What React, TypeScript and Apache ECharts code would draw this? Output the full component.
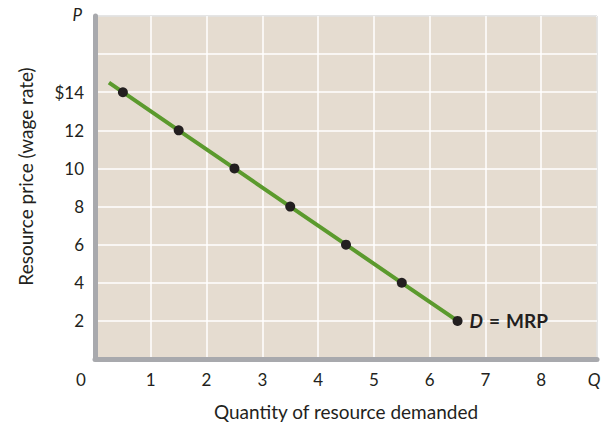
import React, { useEffect, useRef } from "react";
import * as echarts from "echarts";

const quantities = [0.5, 1.5, 2.5, 3.5, 4.5, 5.5, 6.5];
const prices = [14, 12, 10, 8, 6, 4, 2];
const lineStart = [0.25, 14.5];
const xTitle = "Quantity of resource demanded";
const yTitle = "Resource price (wage rate)";

const FONT = "Lato, sans-serif";
const INK = "#231f20";

export default function App() {
  const ref = useRef<HTMLDivElement>(null);
  useEffect(() => {
    document.body.style.margin = "0";
    document.body.style.overflow = "hidden";
    if (!ref.current) return;
    const chart = echarts.init(ref.current, null, { renderer: "svg" });
    const pts = quantities.map((q, i) => [q, prices[i]]);
    const linePts = [lineStart, ...pts];
    chart.setOption({
      animation: false,
      textStyle: { fontFamily: FONT },
      grid: {
        left: 95,
        right: 8,
        top: 16,
        bottom: 63,
        show: true,
        backgroundColor: "#e5dcd0",
        borderColor: "#333333",
        borderWidth: 1,
      },
      xAxis: {
        type: "value",
        min: 0,
        max: 9,
        interval: 1,
        offset: 2,
        name: xTitle,
        nameLocation: "middle",
        nameGap: 41,
        nameTextStyle: { fontSize: 19, color: INK, fontFamily: FONT },
        axisLine: { show: true, lineStyle: { color: "#a8a9ad", width: 5 } },
        axisTick: { show: false },
        splitLine: { show: true, lineStyle: { color: "#ffffff", width: 1.5 } },
        axisLabel: {
          margin: 10,
          fontSize: 17,
          color: INK,
          fontFamily: FONT,
          showMaxLabel: true,
          showMinLabel: true,
          formatter: (v: number) =>
            v === 9 ? "{q|Q}" : v === 0 ? "{z|0}" : String(v),
          rich: {
            q: { fontStyle: "italic", fontSize: 17, color: INK, fontFamily: FONT, padding: [0, 6, 0, 0] },
            z: { fontSize: 17, color: INK, fontFamily: FONT, padding: [0, 28, 0, 0] },
          },
        },
      },
      yAxis: {
        type: "value",
        min: 0,
        max: 18,
        interval: 2,
        offset: 2,
        name: yTitle,
        nameLocation: "middle",
        nameGap: 58,
        nameTextStyle: { fontSize: 19, color: INK, fontFamily: FONT, padding: [0, 0, 0, 22] },
        axisLine: { show: true, lineStyle: { color: "#a8a9ad", width: 5 } },
        axisTick: { show: false },
        splitLine: { show: true, lineStyle: { color: "#ffffff", width: 1.5 } },
        axisLabel: {
          margin: 9,
          fontSize: 17,
          color: INK,
          fontFamily: FONT,
          showMaxLabel: true,
          formatter: (v: number) =>
            v === 0 ? "" : v === 18 ? "{p|P}" : v === 16 ? "" : v === 14 ? "$14" : String(v),
          rich: {
            p: { fontStyle: "italic", fontSize: 17, color: INK, fontFamily: FONT, padding: [0, 2, 4, 0] },
          },
        },
      },
      series: [
        {
          type: "line",
          data: linePts,
          showSymbol: false,
          symbol: "none",
          lineStyle: { color: "#5b9a2d", width: 4 },
          z: 2,
        },
        {
          type: "scatter",
          data: pts,
          symbol: "circle",
          symbolSize: 10,
          itemStyle: { color: INK, opacity: 1 },
          z: 3,
          label: {
            show: true,
            position: "right",
            distance: 7,
            formatter: (p: any) => (p.dataIndex === pts.length - 1 ? "{i|D}{e|=}{b|MRP}" : ""),
            rich: {
              i: { fontStyle: "italic", fontWeight: "bold", fontSize: 19, color: INK, fontFamily: FONT, padding: [0, 6, 0, 0] },
              e: { fontWeight: "bold", fontSize: 19, color: INK, fontFamily: FONT, padding: [0, 6, 0, 0] },
              b: { fontWeight: "bold", fontSize: 19, color: INK, fontFamily: FONT },
            },
          },
        },
      ],
    });
    return () => chart.dispose();
  }, []);
  return <div ref={ref} style={{ width: 605, height: 426 }} />;
}
